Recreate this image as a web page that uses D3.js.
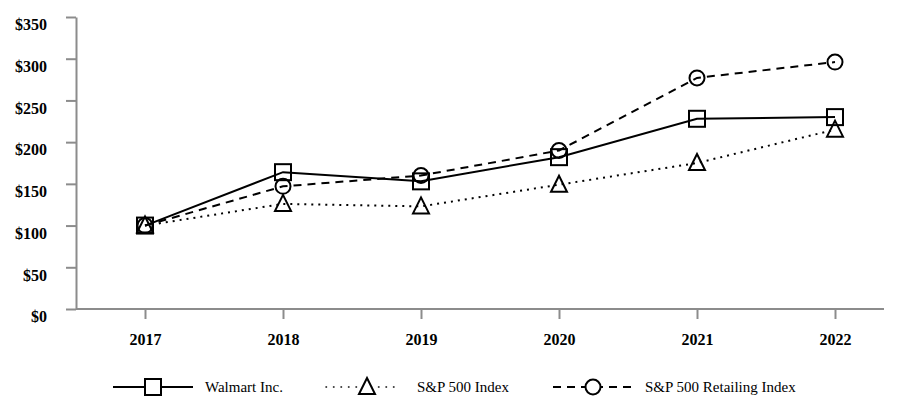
<html>
<head>
<meta charset="utf-8">
<script src="https://cdn.jsdelivr.net/npm/d3@7"></script>
<style>
	body { margin: 0; background: #fff; }
	text { font-family: "Liberation Serif", "Times New Roman", serif; }
</style>
</head>
<body>
<script>

	// data
	var YEARS = [2017, 2018, 2019, 2020, 2021, 2022];
	var WALMART = [100, 164, 153, 182, 228, 230];
	var SP500 = [100, 126, 123, 149, 175, 215];
	var RETAIL = [100, 147, 160, 190, 277, 296];
	var Y_TICKS = [0, 50, 100, 150, 200, 250, 300, 350];
	var SERIES_NAMES = ["Walmart Inc.", "S&P 500 Index", "S&P 500 Retailing Index"];

	// view
	var W = 899, H = 400;
	var AXIS_COLOR = "#8c8c8c";

	var svg = d3.select("body").append("svg")
		.attr("width", W)
		.attr("height", H);

	var x = d3.scaleLinear().domain([2017, 2022]).range([145, 835]);
	var y = d3.scaleLinear().domain([0, 350]).range([309, 17]);

	// y axis
	var yAxis = svg.append("g").attr("transform", "translate(76,0)")
		.call(d3.axisLeft(y).tickValues(Y_TICKS).tickSize(10).tickSizeOuter(0)
			.tickFormat(function(d) { return "$" + d; }));
	yAxis.select(".domain").attr("stroke", AXIS_COLOR).attr("stroke-width", 2);
	yAxis.selectAll(".tick line").attr("stroke", AXIS_COLOR).attr("stroke-width", 2);
	yAxis.selectAll(".tick text")
		.attr("x", -29).attr("dy", "0.8em")
		.attr("font-size", 16).attr("font-weight", "bold")
		.attr("font-family", "Liberation Serif").attr("fill", "#000");

	// x axis
	var xAxis = svg.append("g").attr("transform", "translate(0,309)")
		.call(d3.axisBottom(x).tickValues(YEARS).tickSize(10).tickSizeOuter(0)
			.tickFormat(d3.format("d")));
	xAxis.select(".domain").attr("d", "M76,0H884").attr("stroke", AXIS_COLOR).attr("stroke-width", 2);
	xAxis.selectAll(".tick line").attr("stroke", AXIS_COLOR).attr("stroke-width", 2);
	xAxis.selectAll(".tick text")
		.attr("y", 25).attr("dy", "0.71em")
		.attr("font-size", 16).attr("font-weight", "bold")
		.attr("font-family", "Liberation Serif").attr("fill", "#000");

	var series = [
		{ name: SERIES_NAMES[0], values: WALMART, dash: null, marker: "square" },
		{ name: SERIES_NAMES[1], values: SP500, dash: "2,5", marker: "triangle" },
		{ name: SERIES_NAMES[2], values: RETAIL, dash: "8,6", marker: "circle" }
	];

	var line = d3.line()
		.x(function(d, i) { return x(YEARS[i]); })
		.y(function(d) { return y(d); });

	function draw_marker(g, type, cx, cy) {
		if (type === "square") {
			g.append("rect").attr("x", cx - 8).attr("y", cy - 8)
				.attr("width", 16).attr("height", 16);
		} else if (type === "circle") {
			g.append("circle").attr("cx", cx).attr("cy", cy).attr("r", 7.5);
		} else {
			g.append("path").attr("d",
				"M" + cx + "," + (cy - 9) + "L" + (cx + 8) + "," + (cy + 7) + "L" + (cx - 8) + "," + (cy + 7) + "Z");
		}
	}

	// lines then markers
	series.forEach(function(s) {
		svg.append("path")
			.attr("d", line(s.values))
			.attr("fill", "none")
			.attr("stroke", "#000")
			.attr("stroke-width", 2)
			.attr("stroke-dasharray", s.dash);
	});
	series.slice().reverse().forEach(function(s) {
		var g = svg.append("g").attr("fill", "none").attr("stroke", "#000").attr("stroke-width", 2);
		s.values.forEach(function(v, i) {
			draw_marker(g, s.marker, x(YEARS[i]), y(v));
		});
	});

	// legend
	var LEGEND_X = [113, 326, 553];
	var legend = svg.selectAll(".legend").data(series).enter().append("g")
		.attr("class", "legend")
		.attr("transform", function(d, i) { return "translate(" + LEGEND_X[i] + ",387)"; });
	legend.append("line")
		.attr("x1", 0).attr("x2", function(d, i) { return i === 1 ? 74 : 80; })
		.attr("y1", 0).attr("y2", 0)
		.attr("stroke", "#000")
		.attr("stroke-width", function(d, i) { return i === 1 ? 1.5 : 2; })
		.attr("stroke-linecap", function(d, i) { return i === 1 ? "round" : "butt"; })
		.attr("stroke-dasharray", function(d, i) { return i === 1 ? "0.5,7" : d.dash; });
	legend.each(function(d, i) {
		var g = d3.select(this).append("g").attr("fill", "#fff").attr("stroke", "#000").attr("stroke-width", 2);
		draw_marker(g, d.marker, i === 1 ? 41 : 40, 0);
	});
	legend.append("text")
		.attr("x", function(d, i) { return i === 1 ? 91 : 92; })
		.attr("y", 5)
		.attr("font-size", 15)
		.attr("fill", "#000")
		.text(function(d) { return d.name; });

</script>
</body>
</html>
